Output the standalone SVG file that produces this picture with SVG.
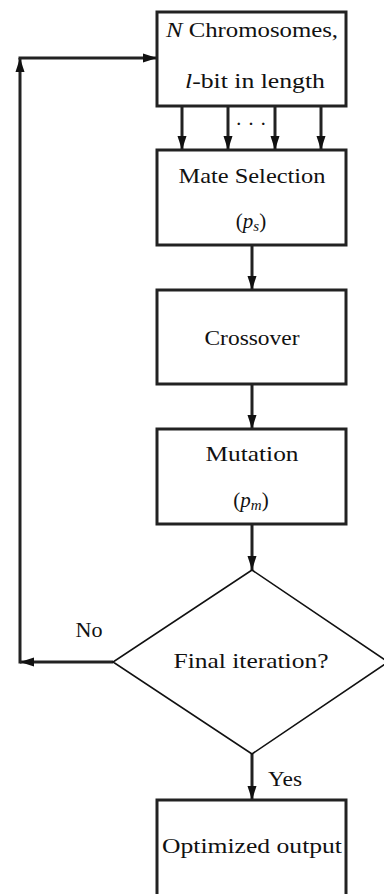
<svg xmlns="http://www.w3.org/2000/svg" width="384" height="894" viewBox="0 0 384 894">
<style>
.box{fill:#fff;stroke:#222;stroke-width:3}
.ln{fill:none;stroke:#222;stroke-width:3}
.dia{fill:#fff;stroke:#111;stroke-width:1.6}
text{font-size:21px;fill:#111;text-anchor:middle}
.it{font-style:italic}
.sub{font-size:15px;font-style:italic}
</style>
<defs>
<marker id="ahL" viewBox="0 0 14 10" refX="14" refY="5" markerWidth="14" markerHeight="10" markerUnits="userSpaceOnUse" orient="auto">
<path d="M0,0.5 L14,5 L0,9.5 Z" fill="#111"/>
</marker>
</defs>
<g font-family="'Liberation Serif', 'Times New Roman', 'DejaVu Serif', serif">
<g id="connectors">
<path class="ln" d="M182,106 V150" marker-end="url(#ahL)"/>
<path class="ln" d="M228,106 V150" marker-end="url(#ahL)"/>
<path class="ln" d="M275,106 V150" marker-end="url(#ahL)"/>
<path class="ln" d="M321,106 V150" marker-end="url(#ahL)"/>
<path class="ln" d="M252,245 V290" marker-end="url(#ahL)"/>
<path class="ln" d="M252,384 V429" marker-end="url(#ahL)"/>
<path class="ln" d="M252,524 V570" marker-end="url(#ahL)"/>
<path class="ln" d="M252,754 V800" marker-end="url(#ahL)"/>
<path class="ln" d="M113,662 H20" marker-end="url(#ahL)"/>
<path class="ln" d="M20,663.5 V58" marker-end="url(#ahL)"/>
<path class="ln" d="M18.5,58 H157" marker-end="url(#ahL)"/>
<text x="251" y="131" font-size="16">· · ·</text>
<text x="89" y="637" textLength="27" lengthAdjust="spacingAndGlyphs">No</text>
<text x="285" y="786" textLength="34" lengthAdjust="spacingAndGlyphs">Yes</text>
</g>
<g id="n1">
<rect class="box" x="157" y="12" width="189" height="94"/>
<text x="252" y="37" textLength="172" lengthAdjust="spacingAndGlyphs"><tspan class="it">N</tspan> Chromosomes,</text>
<text x="255" y="88" textLength="140" lengthAdjust="spacingAndGlyphs"><tspan class="it">l</tspan>-bit in length</text>
</g>
<g id="n2">
<rect class="box" x="157" y="150" width="189" height="95"/>
<text x="252" y="183" textLength="147" lengthAdjust="spacingAndGlyphs">Mate Selection</text>
<text x="251" y="228">(<tspan class="it">p</tspan><tspan class="sub" dy="3">s</tspan><tspan dy="-3">)</tspan></text>
</g>
<g id="n3">
<rect class="box" x="157" y="290" width="189" height="94"/>
<text x="252" y="345" textLength="95" lengthAdjust="spacingAndGlyphs">Crossover</text>
</g>
<g id="n4">
<rect class="box" x="157" y="429" width="189" height="95"/>
<text x="252" y="461" textLength="93" lengthAdjust="spacingAndGlyphs">Mutation</text>
<text x="251" y="507">(<tspan class="it">p</tspan><tspan class="sub" dy="3">m</tspan><tspan dy="-3">)</tspan></text>
</g>
<g id="n5">
<polygon class="dia" points="252,570 388,662 252,754 113,662"/>
<text x="251" y="668" textLength="155" lengthAdjust="spacingAndGlyphs">Final iteration?</text>
</g>
<g id="n6">
<rect class="box" x="157" y="800" width="189" height="100"/>
<text x="252" y="853" textLength="180" lengthAdjust="spacingAndGlyphs">Optimized output</text>
</g>
</g>
</svg>
